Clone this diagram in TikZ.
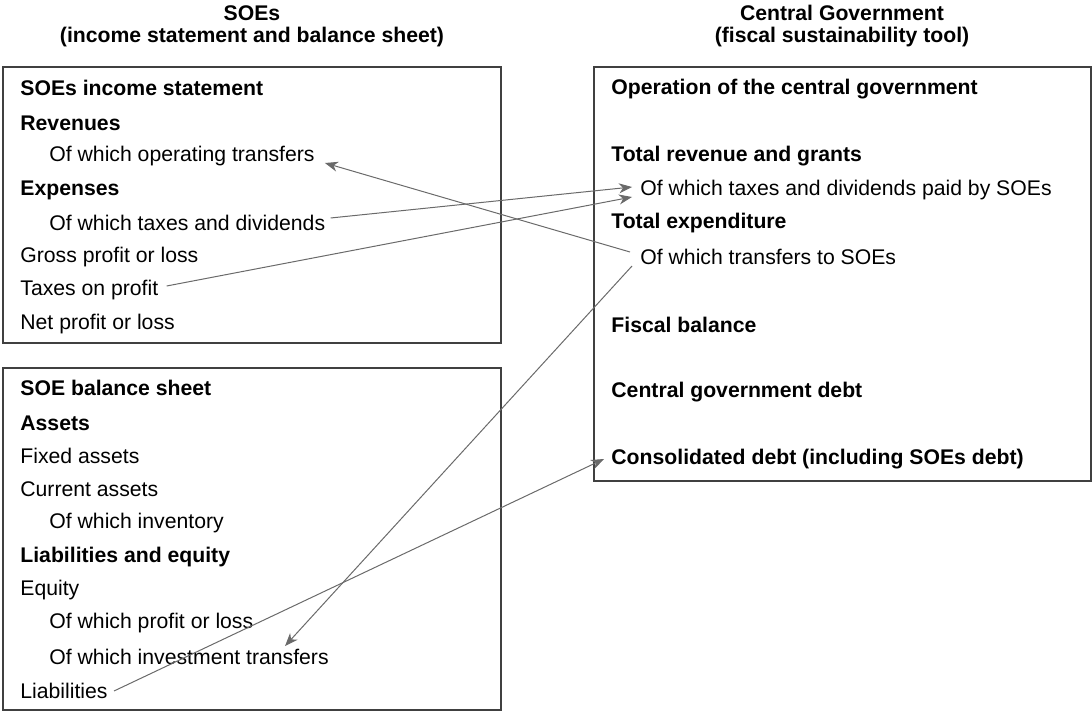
\documentclass[tikz,border=0pt]{standalone}
\usepackage{fontspec}
\setmainfont{Liberation Sans}
\usepackage{tikz}
\usetikzlibrary{arrows.meta}
\definecolor{boxgray}{HTML}{404040}
\definecolor{linkgray}{HTML}{6A6A6A}

\begin{document}
\begin{tikzpicture}[x=0.5pt,y=-0.5pt,
    item/.style={anchor=west,inner sep=0pt,font=\fontsize{10.6}{12}\selectfont},
    head/.style={item,font=\fontsize{10.6}{12}\selectfont\bfseries},
    title/.style={inner sep=0pt,font=\fontsize{10.6}{12}\selectfont\bfseries},
    frame/.style={draw=boxgray,line width=0.7pt},
    link/.style={draw=linkgray,line width=0.5pt,-{Stealth[length=6.5pt,width=5pt,inset=2pt]}}]
  \useasboundingbox (0,0) rectangle (1092,711);

  % column titles
  \node[title](soe1) at (252,13){SOEs};
  \node[title](soe2) at (252,37){(income statement and balance sheet)};
  \node[title](cg1) at (842,13){Central Government};
  \node[title](cg2) at (842,37){(fiscal sustainability tool)};

  % frames
  \draw[frame] (3,67) rectangle (501,343);
  \draw[frame] (3,368) rectangle (501,710);
  \draw[frame] (594,67) rectangle (1091,481);

  % SOEs income statement
  \node[head](inc) at (20,88){SOEs income statement};
  \node[head](rev) at (20,123){Revenues};
  \node[item](opt) at (49,156){Of which operating transfers};
  \node[head](exp) at (20,190){Expenses};
  \node[item](tdiv) at (49,223){Of which taxes and dividends};
  \node[item](gpl) at (20,257){Gross profit or loss};
  \node[item](top) at (20,290){Taxes on profit};
  \node[item](npl) at (20,324){Net profit or loss};

  % SOE balance sheet
  \node[head](bal) at (20,388){SOE balance sheet};
  \node[head](ass) at (20,423){Assets};
  \node[item](fix) at (20,456){Fixed assets};
  \node[item](cur) at (20,489){Current assets};
  \node[item](inv) at (49,523){Of which inventory};
  \node[head](lae) at (20,557){Liabilities and equity};
  \node[item](equ) at (20,590){Equity};
  \node[item](pol) at (49,623){Of which profit or loss};
  \node[item](itr) at (49,657){Of which investment transfers};
  \node[item](liab) at (20,691){Liabilities};

  % central government
  \node[head](ocg) at (611,89){Operation of the central government};
  \node[head](trg) at (611,156){Total revenue and grants};
  \node[item](tdp) at (640,190){Of which taxes and dividends paid by SOEs};
  \node[head](tex) at (611,223){Total expenditure};
  \node[item](ts) at (640,257){Of which transfers to SOEs};
  \node[head](fb) at (611,325){Fiscal balance};
  \node[head](cgd) at (611,392){Central government debt};
  \node[head](cons) at (611,459){Consolidated debt (including SOEs debt)};

  % links
  \draw[link] ([xshift=-5pt,yshift=2.5pt]ts.west) -- ([xshift=5pt,yshift=-3.5pt]opt.east);
  \draw[link] ([xshift=2.5pt,yshift=2.5pt]tdiv.east) -- ([xshift=-4pt,yshift=1.5pt]tdp.west);
  \draw[link] ([xshift=4pt,yshift=2pt]top.east) -- ([xshift=-4pt,yshift=-3.5pt]tdp.west);
  \draw[link] ([xshift=-4pt,yshift=-4.5pt]ts.west) -- ([xshift=-22pt,yshift=5.5pt]itr.east);
  \draw[link] ([xshift=3pt]liab.east) -- ([xshift=-3.5pt]cons.west);
\end{tikzpicture}
\end{document}
